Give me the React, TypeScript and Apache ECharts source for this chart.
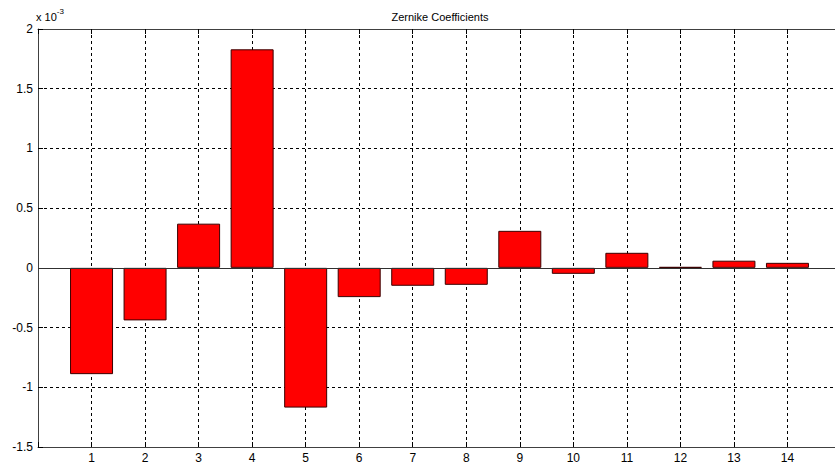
import React, { useEffect, useRef } from "react";
import * as echarts from "echarts";

const categories = [1, 2, 3, 4, 5, 6, 7, 8, 9, 10, 11, 12, 13, 14];
const values = [-0.89, -0.44, 0.37, 1.83, -1.17, -0.245, -0.15, -0.142, 0.31, -0.05, 0.126, 0.008, 0.06, 0.042];
const yTicks = [-1.5, -1, -0.5, 0, 0.5, 1, 1.5, 2];
const title = "Zernike Coefficients";

export default function App() {
  const ref = useRef<HTMLDivElement>(null);
  useEffect(() => {
    document.body.style.margin = "0";
    const chart = echarts.init(ref.current!, undefined, { renderer: "svg" });
    const font = "Arial, 'Liberation Sans', sans-serif";
    const gridLine = { show: true, lineStyle: { color: "#000", type: [3, 3] as any, width: 1 } };
    chart.setOption({
      animation: false,
      backgroundColor: "#fff",
      title: {
        text: title,
        left: 435,
        top: 6,
        textAlign: "center",
        textStyle: { fontSize: 11, fontWeight: "normal", color: "#000", fontFamily: font },
      },
      graphic: [
        {
          type: "text",
          left: 36,
          top: 7,
          style: {
            text: "{a|x 10}{b|-3}",
            rich: {
              a: { fontSize: 11, fontFamily: font, fill: "#000", verticalAlign: "bottom", padding: [4, 0, 0, 0] },
              b: { fontSize: 8, fontFamily: font, fill: "#000", verticalAlign: "top" },
            },
          },
        },
      ],
      grid: { left: 38, top: 29, width: 803, height: 418, containLabel: false },
      xAxis: [
        {
          type: "value",
          min: 0,
          max: 15,
          interval: 1,
          position: "bottom",
          axisLine: { show: true, onZero: false, lineStyle: { color: "#404040", width: 1 } },
          axisTick: { show: true, inside: true, length: 5, lineStyle: { color: "#000" } },
          axisLabel: {
            color: "#000",
            fontSize: 12,
            fontFamily: font,
            margin: 5,
            formatter: (v: number) => (categories.indexOf(v) >= 0 ? String(v) : ""),
          },
          splitLine: gridLine,
        },
        {
          type: "value",
          min: 0,
          max: 15,
          interval: 1,
          position: "top",
          axisLine: { show: true, onZero: false, lineStyle: { color: "#404040", width: 1 } },
          axisTick: { show: true, inside: true, length: 5, lineStyle: { color: "#000" } },
          axisLabel: { show: false },
          splitLine: { show: false },
        },
      ],
      yAxis: {
        type: "value",
        min: yTicks[0],
        max: yTicks[yTicks.length - 1],
        interval: 0.5,
        axisLine: { show: true, onZero: false, lineStyle: { color: "#404040", width: 1 } },
        axisTick: { show: true, inside: true, length: 5, lineStyle: { color: "#000" } },
        axisLabel: { color: "#000", fontSize: 12, fontFamily: font, margin: 5 },
        splitLine: gridLine,
      },
      series: [
        {
          type: "bar",
          xAxisIndex: 0,
          data: categories.map((c, i) => [c, values[i]]),
          barWidth: 43,
          itemStyle: { color: "#ff0000", borderColor: "#3a0000", borderWidth: 1 },
          markLine: {
            silent: true,
            symbol: "none",
            label: { show: false },
            lineStyle: { color: "#303030", type: "solid", width: 1 },
            data: [{ yAxis: 0 }],
          },
        },
      ],
    });
    return () => chart.dispose();
  }, []);
  return (
    <div style={{ width: 835, height: 469, overflow: "hidden", position: "relative" }}>
      <div ref={ref} style={{ width: 850, height: 469, position: "absolute", left: 0, top: 0 }} />
    </div>
  );
}
